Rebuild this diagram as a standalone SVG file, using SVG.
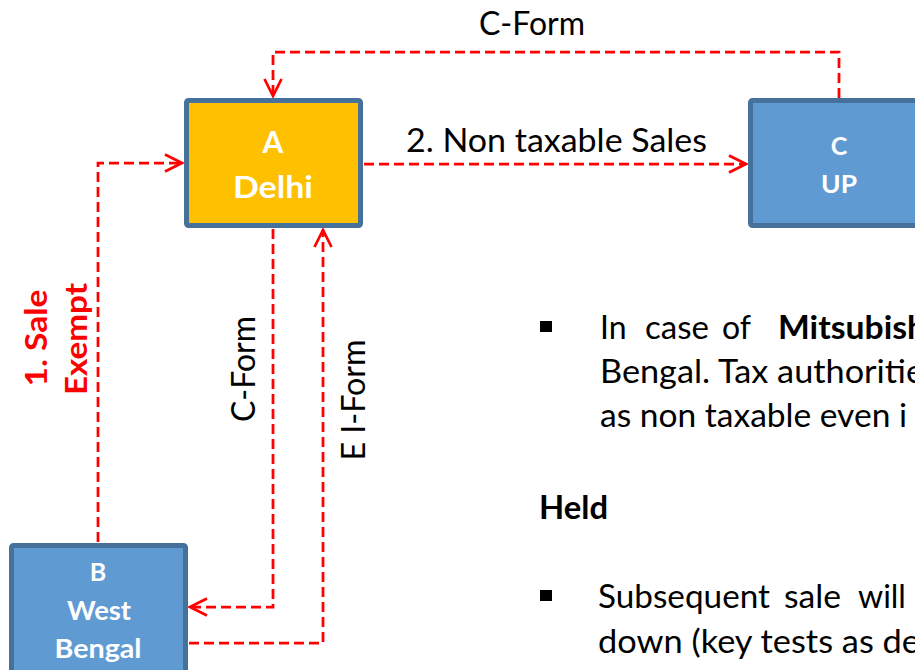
<svg xmlns="http://www.w3.org/2000/svg" width="915" height="670" viewBox="0 0 915 670">
  <style>
    .box-a { fill: #FFC000; stroke: #45719A; stroke-width: 5; }
    .box-b { fill: #5F9BD2; stroke: #45719A; stroke-width: 5; }
    .node-label { font-family: Lato, "Liberation Sans", sans-serif; font-weight: bold; fill: #FFFFFF; text-anchor: middle; }
    .link { fill: none; stroke: #FF0000; stroke-width: 2.75; stroke-dasharray: 10 5; }
    .link-label { font-family: Lato, "Liberation Sans", sans-serif; font-size: 32px; fill: #000000; }
    .red-label { font-family: Lato, "Liberation Sans", sans-serif; font-size: 30px; font-weight: bold; fill: #FF0000; text-anchor: middle; }
    .body { font-family: Lato, "Liberation Sans", sans-serif; font-size: 32px; fill: #000000; }
    .bold { font-weight: bold; }
  </style>
  <defs>
    <marker id="open-arrow" markerUnits="userSpaceOnUse" markerWidth="26" markerHeight="26" viewBox="-22 -13 26 26" refX="0" refY="0" orient="auto">
      <path d="M-17,-8.5 L0,0 L-17,8.5" fill="none" stroke="#FF0000" stroke-width="2.75" stroke-dasharray="none"/>
    </marker>
  </defs>

  <rect width="915" height="670" fill="#FFFFFF"/>

  <!-- connectors -->
  <g id="connectors">
    <path class="link" d="M839,98 V52 H273 V96" marker-end="url(#open-arrow)"/>
    <path class="link" d="M364,164 H746" marker-end="url(#open-arrow)"/>
    <path class="link" d="M98,542 V163 H182" marker-end="url(#open-arrow)"/>
    <path class="link" d="M273,229 V607 H190" marker-end="url(#open-arrow)"/>
    <path class="link" d="M189,643 H323 V230" marker-end="url(#open-arrow)"/>
  </g>

  <!-- connector labels -->
  <g id="connector-labels">
    <text class="link-label" x="532" y="35" text-anchor="middle" textLength="106" lengthAdjust="spacingAndGlyphs">C-Form</text>
    <text class="link-label" x="406" y="152" textLength="301" lengthAdjust="spacingAndGlyphs">2. Non taxable Sales</text>
    <text class="link-label" transform="translate(255,369) rotate(-90)" text-anchor="middle" textLength="106" lengthAdjust="spacingAndGlyphs">C-Form</text>
    <text class="link-label" transform="translate(365,400) rotate(-90)" text-anchor="middle" textLength="121" lengthAdjust="spacingAndGlyphs">E I-Form</text>
    <text class="red-label" transform="translate(47,338) rotate(-90)" textLength="97" lengthAdjust="spacingAndGlyphs">1. Sale</text>
    <text class="red-label" transform="translate(87,339) rotate(-90)" textLength="112" lengthAdjust="spacingAndGlyphs">Exempt</text>
  </g>

  <!-- node A: Delhi -->
  <g id="node-a">
    <rect class="box-a" x="186.5" y="100.5" width="174" height="125" rx="2"/>
    <text class="node-label" x="273" y="153" font-size="30">A</text>
    <text class="node-label" x="273" y="198" font-size="30" textLength="80" lengthAdjust="spacingAndGlyphs">Delhi</text>
  </g>

  <!-- node C: UP -->
  <g id="node-c">
    <rect class="box-b" x="750.5" y="100.5" width="180" height="125" rx="2"/>
    <text class="node-label" x="839" y="155" font-size="25">C</text>
    <text class="node-label" x="839" y="193" font-size="25" textLength="36" lengthAdjust="spacingAndGlyphs">UP</text>
  </g>

  <!-- node B: West Bengal -->
  <g id="node-b">
    <rect class="box-b" x="11.5" y="545.5" width="174" height="135" rx="2"/>
    <text class="node-label" x="98" y="581" font-size="25">B</text>
    <text class="node-label" x="99" y="620" font-size="27" textLength="64" lengthAdjust="spacingAndGlyphs">West</text>
    <text class="node-label" x="98" y="658" font-size="27" textLength="87" lengthAdjust="spacingAndGlyphs">Bengal</text>
  </g>

  <!-- case notes -->
  <g id="notes">
    <rect x="540" y="321" width="12" height="11" fill="#000000"/>
    <text class="body" y="339">
      <tspan x="600">In</tspan>
      <tspan x="645" textLength="64" lengthAdjust="spacingAndGlyphs">case</tspan>
      <tspan x="722">of</tspan>
      <tspan class="bold" x="778" textLength="148" lengthAdjust="spacingAndGlyphs">Mitsubish</tspan>
    </text>
    <text class="body" x="600" y="383" textLength="324" lengthAdjust="spacingAndGlyphs">Bengal. Tax authoritie</text>
    <text class="body" x="600" y="427" textLength="307" lengthAdjust="spacingAndGlyphs">as non taxable even i</text>

    <text class="body bold" x="539" y="519" textLength="69" lengthAdjust="spacingAndGlyphs">Held</text>

    <rect x="540" y="590" width="12" height="11" fill="#000000"/>
    <text class="body" y="608">
      <tspan x="598" textLength="172" lengthAdjust="spacingAndGlyphs">Subsequent</tspan>
      <tspan x="784" textLength="57" lengthAdjust="spacingAndGlyphs">sale</tspan>
      <tspan x="858">will</tspan>
    </text>
    <text class="body" x="598" y="653" textLength="322" lengthAdjust="spacingAndGlyphs">down (key tests as de</text>
  </g>
</svg>
